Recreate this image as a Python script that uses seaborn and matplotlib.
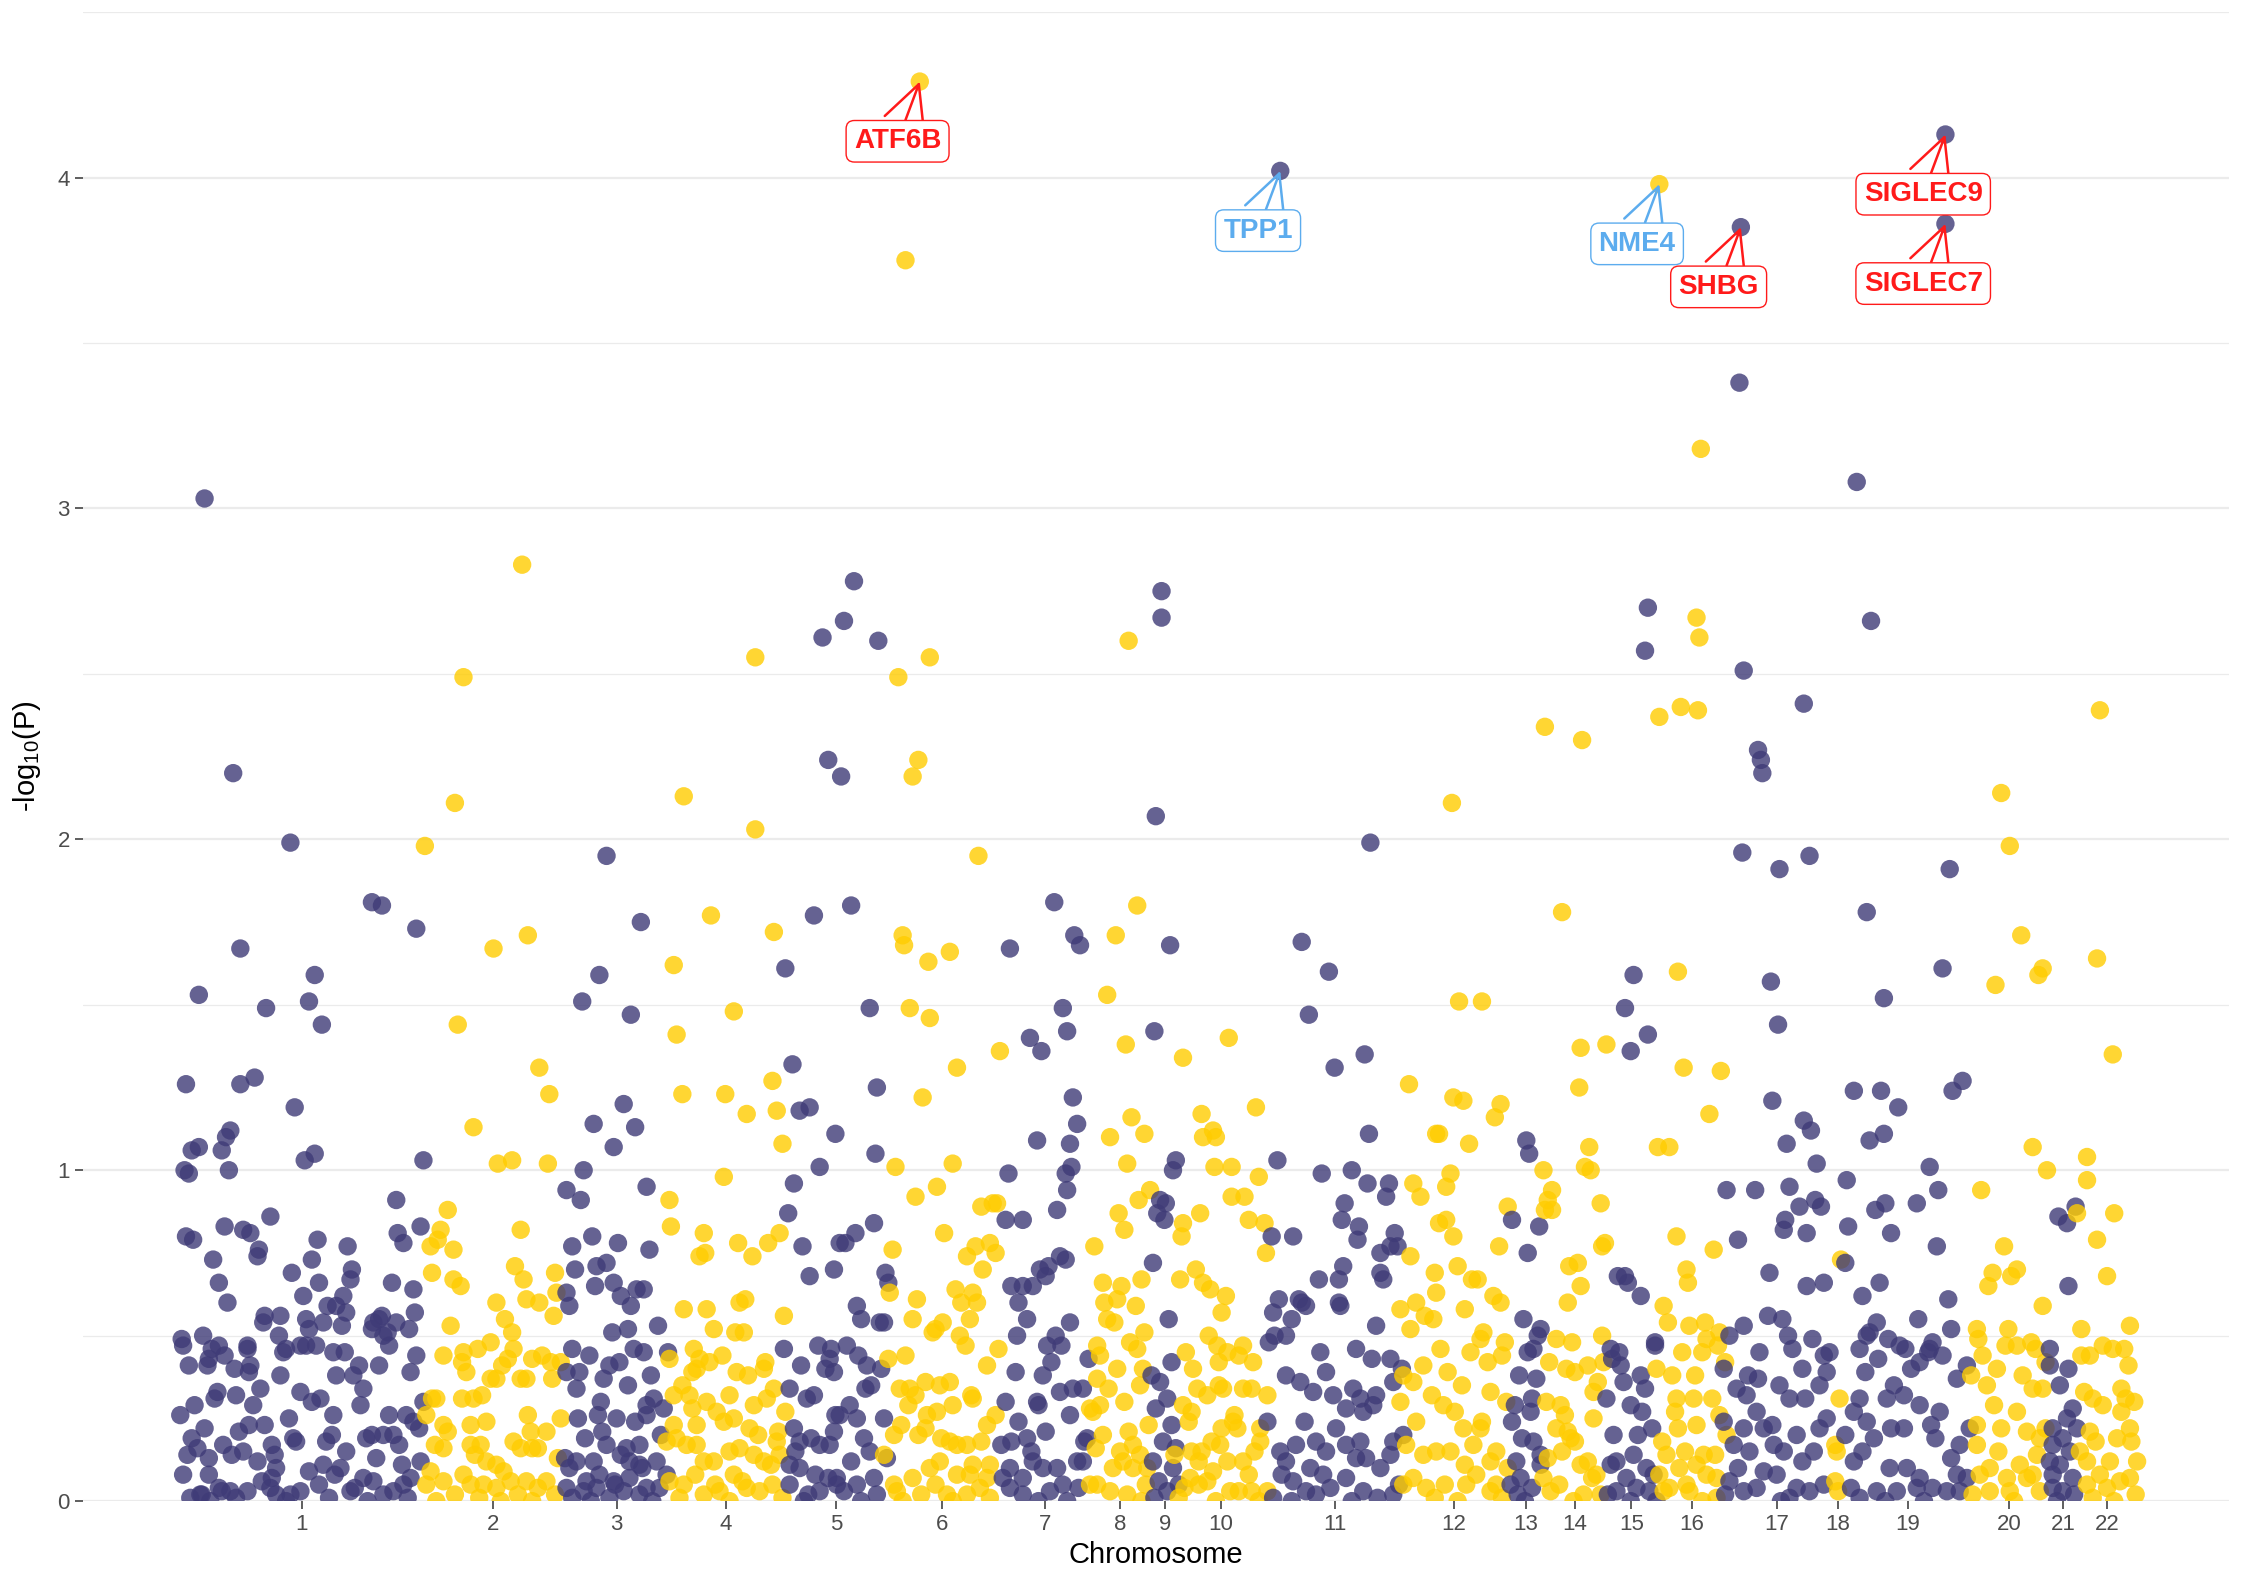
import pandas as pd
import matplotlib
matplotlib.use("Agg")
import matplotlib.pyplot as plt
from matplotlib.ticker import MultipleLocator
import seaborn as sns

# (cumulative position, -log10 P) per chromosome
chr1 = [(143, 3.03), (163, 2.20), (203, 1.99), (260, 1.81), (267, 1.80), (291, 1.73), (168, 1.67), (220, 1.59),
        (139, 1.53), (186, 1.49), (216, 1.51), (225, 1.44), (130, 1.26), (168, 1.26), (178, 1.28), (206, 1.19),
        (161, 1.12), (158, 1.10), (139, 1.07), (134, 1.06), (155, 1.06), (220, 1.05), (213, 1.03), (129, 1.00),
        (132, 0.99), (160, 1.00), (296, 1.03), (277, 0.91), (189, 0.86), (157, 0.83), (170, 0.82), (175, 0.81),
        (130, 0.80), (135, 0.79), (278, 0.81), (282, 0.78), (294, 0.83), (222, 0.79), (243, 0.77), (181, 0.76),
        (180, 0.74), (149, 0.73), (218, 0.73), (246, 0.70), (245, 0.67), (204, 0.69), (153, 0.66), (223, 0.66),
        (274, 0.66), (289, 0.64), (159, 0.60), (212, 0.62), (240, 0.62), (235, 0.59), (229, 0.59), (242, 0.57),
        (290, 0.57), (185, 0.56), (184, 0.54), (196, 0.56), (265, 0.55), (277, 0.54), (267, 0.56), (261, 0.54),
        (260, 0.52), (271, 0.51), (286, 0.52), (127, 0.49), (128, 0.47), (142, 0.50), (173, 0.47), (214, 0.55),
        (226, 0.54), (216, 0.52), (239, 0.53), (132, 0.41), (148, 0.46), (153, 0.47), (146, 0.43), (145, 0.41),
        (157, 0.44), (164, 0.40), (173, 0.46), (175, 0.41), (174, 0.39), (177, 0.29), (182, 0.34), (165, 0.32),
        (152, 0.33), (150, 0.31), (136, 0.29), (126, 0.26), (134, 0.19), (138, 0.16), (143, 0.22), (146, 0.13),
        (146, 0.08), (141, 0.02), (153, 0.04), (162, 0.14), (167, 0.21), (174, 0.23), (180, 0.12), (185, 0.23),
        (190, 0.17), (192, 0.14), (193, 0.10), (190, 0.07), (202, 0.25), (205, 0.19), (207, 0.18), (210, 0.33),
        (196, 0.38), (195, 0.50), (200, 0.46), (198, 0.45), (210, 0.47), (214, 0.47), (221, 0.47), (218, 0.30),
        (224, 0.31), (228, 0.18), (232, 0.20), (233, 0.26), (226, 0.11), (234, 0.08), (238, 0.10), (242, 0.15),
        (251, 0.41), (247, 0.38), (254, 0.34), (252, 0.29), (256, 0.19), (260, 0.20), (254, 0.07), (248, 0.04),
        (268, 0.20), (272, 0.26), (275, 0.20), (284, 0.26), (281, 0.11), (287, 0.07), (282, 0.05), (233, 0.45),
        (241, 0.45), (235, 0.38), (265, 0.41), (272, 0.47), (268, 0.50), (287, 0.39), (294, 0.12), (289, 0.24),
        (293, 0.22), (210, 0.03), (203, 0.02), (193, 0.02), (189, 0.04), (173, 0.03), (161, 0.03), (155, 0.03),
        (140, 0.02), (223, 0.05), (245, 0.03), (261, 0.06), (268, 0.02), (275, 0.03), (147, 0.00), (165, 0.01),
        (200, 0.00), (230, 0.01), (257, 0.00), (285, 0.01), (133, 0.01), (128, 0.08), (131, 0.14), (156, 0.17),
        (170, 0.15), (183, 0.06), (216, 0.09), (263, 0.13), (279, 0.17), (296, 0.30), (291, 0.44)]
chr2 = [(365, 2.83), (324, 2.49), (318, 2.11), (297, 1.98), (345, 1.67), (369, 1.71), (320, 1.44), (377, 1.31),
        (384, 1.23), (331, 1.13), (348, 1.02), (358, 1.03), (383, 1.02), (313, 0.88), (364, 0.82), (308, 0.82),
        (306, 0.79), (301, 0.77), (317, 0.76), (302, 0.69), (317, 0.67), (322, 0.65), (360, 0.71), (366, 0.67),
        (388, 0.69), (368, 0.61), (377, 0.60), (389, 0.63), (387, 0.56), (347, 0.60), (353, 0.55), (315, 0.53),
        (358, 0.51), (359, 0.46), (343, 0.48), (334, 0.46), (324, 0.45), (323, 0.42), (326, 0.39), (310, 0.44),
        (355, 0.43), (351, 0.41), (347, 0.37), (343, 0.37), (364, 0.37), (368, 0.37), (372, 0.43), (379, 0.44),
        (385, 0.42), (392, 0.42), (386, 0.37), (337, 0.32), (331, 0.31), (323, 0.31), (302, 0.31), (305, 0.31),
        (298, 0.26), (310, 0.23), (313, 0.21), (329, 0.23), (340, 0.24), (304, 0.17), (310, 0.16), (329, 0.17),
        (336, 0.17), (332, 0.14), (340, 0.12), (347, 0.11), (359, 0.18), (364, 0.16), (372, 0.16), (376, 0.16),
        (371, 0.21), (382, 0.21), (369, 0.26), (392, 0.25), (390, 0.13), (352, 0.09), (357, 0.06), (347, 0.04),
        (338, 0.05), (329, 0.05), (324, 0.08), (310, 0.06), (301, 0.09), (298, 0.05), (368, 0.06), (382, 0.06),
        (376, 0.04), (318, 0.02), (335, 0.01), (362, 0.02), (388, 0.02), (305, 0.00), (350, 0.00), (372, 0.00)]
chr3 = [(424, 1.95), (448, 1.75), (419, 1.59), (407, 1.51), (441, 1.47), (436, 1.20), (415, 1.14), (444, 1.13),
        (429, 1.07), (408, 1.00), (396, 0.94), (406, 0.91), (452, 0.95), (414, 0.80), (400, 0.77), (432, 0.78),
        (454, 0.76), (402, 0.70), (417, 0.71), (424, 0.72), (429, 0.66), (416, 0.65), (434, 0.62), (441, 0.59),
        (445, 0.64), (450, 0.64), (396, 0.63), (398, 0.59), (460, 0.53), (428, 0.51), (439, 0.52), (443, 0.46),
        (450, 0.45), (467, 0.45), (426, 0.41), (439, 0.35), (405, 0.39), (396, 0.39), (403, 0.34), (420, 0.30),
        (431, 0.25), (404, 0.25), (409, 0.19), (421, 0.21), (424, 0.17), (438, 0.16), (447, 0.17), (452, 0.26),
        (395, 0.13), (403, 0.12), (415, 0.12), (440, 0.12), (449, 0.10), (410, 0.06), (429, 0.06), (440, 0.07),
        (396, 0.04), (417, 0.04), (436, 0.03), (452, 0.04), (452, 0.29), (457, 0.31), (464, 0.28), (459, 0.12),
        (466, 0.08), (461, 0.04), (447, 0.11), (447, 0.02), (426, 0.01), (419, 0.08), (430, 0.05), (398, 0.10),
        (408, 0.03), (412, 0.44), (422, 0.37), (433, 0.42), (455, 0.38), (462, 0.20), (400, 0.46), (418, 0.26),
        (434, 0.14), (444, 0.24), (413, 0.00), (456, 0.00), (400, 0.01)]
chr4 = [(528, 2.55), (478, 2.13), (528, 2.03), (497, 1.77), (541, 1.72), (471, 1.62), (513, 1.48), (473, 1.41),
        (477, 1.23), (507, 1.23), (540, 1.27), (522, 1.17), (543, 1.18), (547, 1.08), (506, 0.98), (468, 0.91),
        (469, 0.83), (492, 0.81), (489, 0.74), (493, 0.75), (516, 0.78), (526, 0.74), (537, 0.78), (545, 0.81),
        (478, 0.58), (494, 0.58), (517, 0.60), (521, 0.61), (548, 0.56), (499, 0.52), (514, 0.51), (520, 0.51),
        (485, 0.46), (489, 0.43), (487, 0.40), (496, 0.42), (484, 0.39), (477, 0.35), (471, 0.32), (482, 0.32),
        (484, 0.28), (487, 0.23), (471, 0.23), (466, 0.18), (473, 0.19), (480, 0.17), (487, 0.17), (492, 0.12),
        (499, 0.12), (478, 0.05), (475, 0.01), (500, 0.05), (503, 0.03), (513, 0.08), (515, 0.39), (523, 0.38),
        (535, 0.42), (534, 0.40), (541, 0.34), (536, 0.31), (549, 0.27), (527, 0.29), (510, 0.32), (501, 0.27),
        (506, 0.24), (513, 0.25), (524, 0.22), (530, 0.20), (517, 0.16), (527, 0.14), (543, 0.18), (534, 0.12),
        (539, 0.11), (522, 0.04), (531, 0.03), (544, 0.21), (545, 0.14), (510, 0.15), (468, 0.43), (505, 0.44),
        (494, 0.30), (519, 0.06), (540, 0.05), (492, 0.02), (510, 0.00), (486, 0.08), (547, 0.01), (468, 0.06)]
chr5 = [(597, 2.78), (590, 2.66), (575, 2.61), (614, 2.60), (579, 2.24), (588, 2.19), (595, 1.80), (569, 1.77),
        (549, 1.61), (608, 1.49), (554, 1.32), (613, 1.25), (559, 1.18), (566, 1.19), (584, 1.11), (612, 1.05),
        (573, 1.01), (555, 0.96), (551, 0.87), (611, 0.84), (598, 0.81), (591, 0.78), (561, 0.77), (587, 0.78),
        (566, 0.68), (583, 0.70), (619, 0.69), (621, 0.66), (599, 0.59), (602, 0.55), (615, 0.54), (618, 0.54),
        (580, 0.43), (583, 0.39), (600, 0.44), (606, 0.41), (594, 0.29), (587, 0.26), (583, 0.21), (599, 0.25),
        (604, 0.19), (608, 0.15), (618, 0.25), (585, 0.07), (599, 0.05), (611, 0.07), (590, 0.03), (605, 0.34),
        (609, 0.35), (552, 0.34), (564, 0.31), (560, 0.41), (569, 0.32), (577, 0.40), (581, 0.46), (584, 0.26),
        (555, 0.22), (559, 0.18), (567, 0.19), (573, 0.17), (580, 0.17), (552, 0.11), (559, 0.10), (570, 0.08),
        (579, 0.07), (585, 0.05), (552, 0.05), (565, 0.02), (573, 0.03), (556, 0.15), (548, 0.46), (572, 0.47),
        (592, 0.47), (616, 0.40), (620, 0.13), (613, 0.02), (595, 0.12), (562, 0.00), (602, 0.00)]
chr6 = [(643, 4.29), (633, 3.75), (628, 2.49), (650, 2.55), (642, 2.24), (638, 2.19), (684, 1.95), (631, 1.71),
        (632, 1.68), (649, 1.63), (664, 1.66), (636, 1.49), (650, 1.46), (699, 1.36), (669, 1.31), (645, 1.22),
        (626, 1.01), (666, 1.02), (640, 0.92), (655, 0.95), (686, 0.89), (694, 0.90), (697, 0.90), (660, 0.81),
        (624, 0.76), (676, 0.74), (682, 0.77), (692, 0.78), (696, 0.75), (687, 0.70), (622, 0.63), (668, 0.64),
        (680, 0.63), (683, 0.60), (672, 0.60), (678, 0.55), (641, 0.61), (638, 0.55), (654, 0.52), (659, 0.54),
        (652, 0.51), (671, 0.50), (675, 0.47), (690, 0.41), (621, 0.43), (629, 0.34), (636, 0.34), (640, 0.32),
        (647, 0.36), (657, 0.35), (664, 0.36), (666, 0.29), (679, 0.32), (680, 0.31), (635, 0.29), (648, 0.26),
        (655, 0.27), (625, 0.20), (630, 0.23), (642, 0.20), (647, 0.22), (658, 0.19), (664, 0.18), (669, 0.17),
        (676, 0.17), (686, 0.18), (690, 0.23), (657, 0.12), (680, 0.11), (692, 0.11), (669, 0.08), (678, 0.08),
        (690, 0.07), (625, 0.05), (654, 0.05), (644, 0.02), (662, 0.02), (676, 0.02), (692, 0.01), (627, 0.03),
        (698, 0.46), (633, 0.44), (618, 0.14), (696, 0.26), (650, 0.10), (638, 0.07), (685, 0.04), (666, 0.00),
        (631, 0.00)]
chr7 = [(737, 1.81), (706, 1.67), (751, 1.71), (755, 1.68), (743, 1.49), (746, 1.42), (720, 1.40), (728, 1.36),
        (750, 1.22), (753, 1.14), (748, 1.08), (749, 1.01), (745, 0.99), (746, 0.94), (739, 0.88), (725, 1.09),
        (705, 0.99), (703, 0.85), (715, 0.85), (741, 0.74), (745, 0.73), (733, 0.71), (727, 0.70), (731, 0.68),
        (707, 0.65), (715, 0.65), (722, 0.65), (712, 0.60), (718, 0.55), (748, 0.54), (711, 0.50), (738, 0.50),
        (732, 0.47), (742, 0.47), (710, 0.39), (729, 0.38), (741, 0.33), (750, 0.34), (757, 0.34), (761, 0.43),
        (725, 0.30), (726, 0.29), (712, 0.24), (718, 0.19), (700, 0.17), (707, 0.18), (721, 0.15), (722, 0.12),
        (729, 0.10), (739, 0.10), (706, 0.10), (701, 0.07), (753, 0.12), (757, 0.12), (760, 0.19), (758, 0.18),
        (715, 0.02), (734, 0.03), (754, 0.04), (743, 0.05), (706, 0.04), (735, 0.42), (703, 0.30), (748, 0.26),
        (731, 0.21), (715, 0.07), (726, 0.00), (746, 0.00)]
chr8 = [(789, 2.60), (795, 1.80), (780, 1.71), (774, 1.53), (787, 1.38), (791, 1.16), (800, 1.11), (776, 1.10),
        (788, 1.02), (804, 0.94), (796, 0.91), (782, 0.87), (786, 0.82), (765, 0.77), (771, 0.66), (784, 0.65),
        (798, 0.67), (781, 0.61), (794, 0.59), (772, 0.60), (774, 0.55), (779, 0.54), (800, 0.51), (790, 0.48),
        (795, 0.46), (767, 0.47), (769, 0.44), (764, 0.27), (762, 0.28), (767, 0.37), (775, 0.34), (769, 0.29),
        (797, 0.35), (803, 0.23), (789, 0.21), (792, 0.17), (783, 0.15), (797, 0.14), (778, 0.10), (792, 0.10),
        (802, 0.10), (801, 0.05), (762, 0.05), (776, 0.03), (785, 0.12), (767, 0.05), (781, 0.40), (786, 0.30),
        (799, 0.40), (771, 0.20), (788, 0.02), (798, 0.00), (766, 0.16)]
chr9 = [(812, 2.75), (812, 2.67), (808, 2.07), (818, 1.68), (807, 1.42), (822, 1.03), (820, 1.00), (811, 0.91),
        (815, 0.90), (809, 0.87), (814, 0.85), (806, 0.72), (817, 0.55), (819, 0.42), (805, 0.38), (811, 0.36),
        (816, 0.31), (808, 0.28), (819, 0.23), (813, 0.18), (806, 0.12), (820, 0.10), (816, 0.03), (824, 0.05),
        (810, 0.06), (822, 0.16), (807, 0.01)]
chr10 = [(827, 1.34), (859, 1.40), (878, 1.19), (840, 1.17), (841, 1.10), (848, 1.12), (850, 1.10), (849, 1.01),
         (861, 1.01), (880, 0.98), (861, 0.92), (870, 0.92), (839, 0.87), (827, 0.84), (826, 0.80), (873, 0.85),
         (884, 0.84), (885, 0.75), (825, 0.67), (836, 0.70), (841, 0.66), (846, 0.64), (857, 0.62), (854, 0.57),
         (845, 0.50), (851, 0.47), (852, 0.42), (829, 0.45), (869, 0.47), (866, 0.44), (837, 0.34), (844, 0.32),
         (855, 0.34), (852, 0.35), (827, 0.29), (833, 0.27), (831, 0.24), (869, 0.34), (875, 0.34), (886, 0.32),
         (863, 0.26), (862, 0.24), (854, 0.22), (865, 0.22), (847, 0.18), (853, 0.17), (881, 0.22), (881, 0.18),
         (877, 0.15), (821, 0.14), (833, 0.15), (840, 0.15), (838, 0.12), (858, 0.12), (869, 0.12), (873, 0.08),
         (832, 0.07), (844, 0.06), (828, 0.04), (860, 0.03), (866, 0.03), (875, 0.03), (886, 0.03), (838, 0.05),
         (858, 0.45), (876, 0.42), (834, 0.40), (848, 0.09), (880, 0.00), (850, 0.00), (824, 0.01)]
chr11 = [(895, 4.02), (958, 1.99), (910, 1.69), (929, 1.60), (915, 1.47), (954, 1.35), (933, 1.31), (957, 1.11),
         (893, 1.03), (924, 0.99), (945, 1.00), (956, 0.96), (971, 0.96), (969, 0.92), (940, 0.90), (938, 0.85),
         (889, 0.80), (904, 0.80), (950, 0.83), (949, 0.79), (975, 0.81), (972, 0.77), (965, 0.75), (977, 0.77),
         (939, 0.71), (922, 0.67), (936, 0.67), (965, 0.69), (967, 0.67), (894, 0.61), (890, 0.57), (903, 0.55),
         (899, 0.50), (891, 0.50), (887, 0.48), (908, 0.61), (913, 0.59), (910, 0.60), (936, 0.60), (937, 0.59),
         (962, 0.53), (923, 0.45), (927, 0.39), (948, 0.46), (959, 0.43), (972, 0.43), (899, 0.38), (909, 0.36),
         (918, 0.33), (932, 0.32), (946, 0.34), (951, 0.31), (941, 0.28), (953, 0.27), (962, 0.32), (960, 0.29),
         (974, 0.36), (934, 0.22), (895, 0.15), (899, 0.12), (906, 0.17), (920, 0.18), (927, 0.15), (941, 0.17),
         (951, 0.18), (948, 0.13), (955, 0.13), (974, 0.18), (972, 0.14), (965, 0.10), (896, 0.08), (904, 0.06),
         (916, 0.10), (925, 0.08), (930, 0.04), (941, 0.07), (913, 0.03), (953, 0.03), (974, 0.02), (920, 0.02),
         (890, 0.01), (886, 0.24), (980, 0.40), (981, 0.20), (978, 0.05), (912, 0.24), (945, 0.00), (903, 0.00),
         (963, 0.01)]
chr12 = [(1015, 2.11), (1020, 1.51), (1036, 1.51), (985, 1.26), (1016, 1.22), (1023, 1.21), (1049, 1.20),
         (1045, 1.16), (1004, 1.11), (1006, 1.11), (1027, 1.08), (988, 0.96), (993, 0.92), (1014, 0.99),
         (1011, 0.95), (1006, 0.84), (1011, 0.85), (1016, 0.80), (986, 0.74), (1048, 0.77), (1003, 0.69),
         (1004, 0.63), (1019, 0.71), (1029, 0.67), (1033, 0.67), (979, 0.58), (990, 0.60), (986, 0.52), (996, 0.56),
         (1002, 0.55), (1024, 0.58), (1044, 0.62), (1049, 0.60), (1037, 0.51), (1035, 0.49), (1054, 0.89),
         (1052, 0.48), (981, 0.38), (995, 0.41), (1012, 0.39), (1022, 0.35), (1040, 0.42), (1042, 0.33),
         (988, 0.36), (1001, 0.32), (1009, 0.29), (1017, 0.27), (1023, 0.22), (1036, 0.24), (1035, 0.22),
         (983, 0.17), (995, 0.14), (1004, 0.15), (1014, 0.15), (1030, 0.17), (1024, 0.11), (1032, 0.08),
         (1042, 0.12), (1046, 0.15), (981, 0.05), (988, 0.07), (997, 0.04), (1025, 0.05), (1042, 0.03),
         (1046, 0.05), (1050, 0.44), (1053, 0.30), (1054, 0.10), (1028, 0.45), (1007, 0.46), (990, 0.24),
         (1010, 0.05), (1019, 0.00), (1003, 0.01), (1050, 0.01), (979, 0.30)]
chr13 = [(1067, 1.09), (1069, 1.05), (1057, 0.85), (1076, 0.83), (1068, 0.75), (1065, 0.55), (1077, 0.52),
         (1075, 0.50), (1068, 0.45), (1072, 0.46), (1059, 0.29), (1071, 0.31), (1070, 0.27), (1057, 0.24),
         (1064, 0.19), (1072, 0.18), (1060, 0.12), (1077, 0.14), (1063, 0.07), (1056, 0.05), (1061, 0.02),
         (1077, 0.11), (1062, 0.38), (1074, 0.37), (1066, 0.00), (1071, 0.04)]
chr14 = [(1080, 2.34), (1106, 2.30), (1092, 1.78), (1105, 1.37), (1123, 1.38), (1104, 1.25), (1111, 1.07),
         (1079, 1.00), (1108, 1.01), (1112, 1.00), (1085, 0.94), (1082, 0.91), (1080, 0.88), (1085, 0.88),
         (1119, 0.90), (1120, 0.77), (1122, 0.78), (1097, 0.71), (1103, 0.72), (1105, 0.65), (1096, 0.60),
         (1088, 0.49), (1099, 0.48), (1120, 0.50), (1095, 0.40), (1101, 0.39), (1110, 0.41), (1121, 0.42),
         (1117, 0.36), (1114, 0.33), (1091, 0.29), (1094, 0.26), (1088, 0.22), (1096, 0.21), (1101, 0.18),
         (1098, 0.19), (1114, 0.25), (1110, 0.12), (1105, 0.11), (1116, 0.08), (1113, 0.07), (1079, 0.07),
         (1084, 0.03), (1107, 0.02), (1092, 0.15), (1082, 0.13), (1083, 0.42), (1090, 0.05), (1100, 0.00),
         (1119, 0.02), (1081, 0.30)]
chr15 = [(1152, 2.70), (1150, 2.57), (1142, 1.59), (1136, 1.49), (1152, 1.41), (1140, 1.36), (1131, 0.68),
         (1136, 0.68), (1138, 0.66), (1147, 0.62), (1157, 0.48), (1157, 0.47), (1126, 0.46), (1132, 0.45),
         (1133, 0.41), (1127, 0.43), (1123, 0.31), (1140, 0.29), (1148, 0.27), (1150, 0.34), (1145, 0.20),
         (1142, 0.14), (1151, 0.10), (1156, 0.08), (1130, 0.12), (1126, 0.11), (1137, 0.07), (1130, 0.03),
         (1144, 0.04), (1153, 0.03), (1124, 0.02), (1135, 0.36), (1155, 0.22), (1128, 0.20), (1140, 0.00),
         (1158, 0.00), (1147, 0.38)]
chr16 = [(1160, 3.98), (1189, 3.18), (1186, 2.67), (1188, 2.61), (1160, 2.37), (1175, 2.40), (1187, 2.39),
         (1173, 1.60), (1177, 1.31), (1203, 1.30), (1195, 1.17), (1159, 1.07), (1167, 1.07), (1172, 0.80),
         (1198, 0.76), (1179, 0.70), (1180, 0.66), (1163, 0.59), (1166, 0.54), (1181, 0.53), (1192, 0.54),
         (1193, 0.49), (1202, 0.51), (1201, 0.47), (1190, 0.45), (1169, 0.38), (1185, 0.38), (1172, 0.31),
         (1171, 0.27), (1184, 0.31), (1197, 0.31), (1202, 0.26), (1173, 0.22), (1186, 0.23), (1162, 0.18),
         (1165, 0.14), (1178, 0.15), (1191, 0.14), (1199, 0.14), (1186, 0.11), (1174, 0.10), (1193, 0.08),
         (1200, 0.07), (1179, 0.05), (1167, 0.04), (1181, 0.03), (1200, 0.01), (1163, 0.03), (1158, 0.40),
         (1206, 0.42), (1160, 0.08), (1190, 0.00), (1207, 0.20), (1176, 0.45)]
chr17 = [(1217, 3.85), (1216, 3.38), (1219, 2.51), (1229, 2.27), (1231, 2.24), (1232, 2.20), (1261, 2.41),
         (1218, 1.96), (1244, 1.91), (1265, 1.95), (1238, 1.57), (1243, 1.44), (1239, 1.21), (1261, 1.15),
         (1266, 1.12), (1249, 1.08), (1270, 1.02), (1207, 0.94), (1227, 0.94), (1251, 0.95), (1258, 0.89),
         (1269, 0.91), (1273, 0.89), (1248, 0.85), (1247, 0.82), (1263, 0.81), (1215, 0.79), (1237, 0.69),
         (1263, 0.65), (1275, 0.66), (1236, 0.56), (1246, 0.55), (1250, 0.50), (1253, 0.46), (1267, 0.49),
         (1219, 0.53), (1209, 0.50), (1279, 0.45), (1222, 0.38), (1229, 0.37), (1214, 0.34), (1221, 0.32),
         (1244, 0.35), (1251, 0.31), (1262, 0.31), (1228, 0.27), (1219, 0.22), (1233, 0.22), (1239, 0.23),
         (1205, 0.24), (1212, 0.17), (1223, 0.15), (1240, 0.17), (1247, 0.15), (1256, 0.20), (1260, 0.12),
         (1272, 0.22), (1277, 0.25), (1209, 0.06), (1219, 0.03), (1233, 0.09), (1242, 0.08), (1228, 0.04),
         (1256, 0.04), (1265, 0.03), (1275, 0.05), (1251, 0.01), (1272, 0.35), (1277, 0.39), (1275, 0.44),
         (1205, 0.40), (1230, 0.45), (1260, 0.40), (1268, 0.15), (1215, 0.10), (1245, 0.00), (1206, 0.02)]
chr18 = [(1287, 0.73), (1286, 0.31), (1283, 0.17), (1284, 0.15), (1283, 0.06), (1285, 0.03)]
chr19 = [(1360, 4.13), (1360, 3.86), (1298, 3.08), (1308, 2.66), (1363, 1.91), (1305, 1.78), (1358, 1.61),
         (1317, 1.52), (1296, 1.24), (1315, 1.24), (1327, 1.19), (1372, 1.27), (1365, 1.24), (1307, 1.09),
         (1317, 1.11), (1349, 1.01), (1291, 0.97), (1355, 0.94), (1340, 0.90), (1311, 0.88), (1318, 0.90),
         (1292, 0.83), (1322, 0.81), (1354, 0.77), (1290, 0.72), (1314, 0.66), (1302, 0.62), (1362, 0.61),
         (1341, 0.55), (1364, 0.52), (1332, 0.46), (1351, 0.48), (1348, 0.45), (1312, 0.54), (1307, 0.51),
         (1320, 0.49), (1305, 0.50), (1300, 0.46), (1304, 0.39), (1313, 0.43), (1328, 0.47), (1336, 0.40),
         (1342, 0.42), (1349, 0.46), (1368, 0.37), (1375, 0.41), (1324, 0.35), (1319, 0.31), (1331, 0.32),
         (1342, 0.29), (1300, 0.31), (1296, 0.27), (1305, 0.24), (1322, 0.22), (1331, 0.22), (1356, 0.27),
         (1350, 0.23), (1353, 0.19), (1377, 0.22), (1370, 0.17), (1302, 0.15), (1296, 0.12), (1321, 0.10),
         (1333, 0.10), (1342, 0.07), (1351, 0.04), (1368, 0.08), (1375, 0.07), (1312, 0.03), (1326, 0.03),
         (1340, 0.04), (1361, 0.03), (1370, 0.03), (1294, 0.04), (1358, 0.44), (1364, 0.13), (1310, 0.19),
         (1290, 0.20), (1345, 0.00), (1318, 0.00), (1300, 0.01)]
chr20 = [(1399, 2.14), (1405, 1.98), (1413, 1.71), (1425, 1.59), (1428, 1.61), (1395, 1.56), (1421, 1.07),
         (1431, 1.00), (1385, 0.94), (1401, 0.77), (1393, 0.69), (1410, 0.70), (1406, 0.68), (1390, 0.65),
         (1428, 0.59), (1382, 0.52), (1383, 0.49), (1404, 0.52), (1402, 0.47), (1410, 0.47), (1420, 0.48),
         (1423, 0.46), (1378, 0.38), (1389, 0.35), (1396, 0.40), (1394, 0.29), (1410, 0.27), (1414, 0.38),
         (1421, 0.34), (1428, 0.34), (1382, 0.23), (1399, 0.22), (1417, 0.21), (1426, 0.19), (1424, 0.14),
         (1384, 0.08), (1391, 0.10), (1403, 0.07), (1412, 0.11), (1417, 0.07), (1421, 0.08), (1391, 0.03),
         (1405, 0.03), (1426, 0.03), (1382, 0.17), (1386, 0.44), (1430, 0.42), (1397, 0.15), (1408, 0.00),
         (1379, 0.02), (1430, 0.22)]
chr21 = [(1439, 0.86), (1445, 0.84), (1451, 0.89), (1446, 0.65), (1433, 0.46), (1433, 0.41), (1440, 0.35),
         (1449, 0.28), (1445, 0.25), (1435, 0.22), (1452, 0.22), (1442, 0.19), (1435, 0.17), (1447, 0.15),
         (1433, 0.12), (1440, 0.11), (1435, 0.08), (1449, 0.07), (1442, 0.03), (1435, 0.04), (1446, 0.40),
         (1438, 0.00), (1450, 0.02)]
chr22 = [(1468, 2.39), (1466, 1.64), (1477, 1.35), (1459, 1.04), (1459, 0.97), (1452, 0.87), (1478, 0.87),
         (1466, 0.79), (1473, 0.68), (1455, 0.52), (1489, 0.53), (1470, 0.47), (1477, 0.46), (1485, 0.46),
         (1455, 0.44), (1461, 0.44), (1488, 0.41), (1483, 0.34), (1486, 0.31), (1463, 0.31), (1470, 0.29),
         (1483, 0.27), (1489, 0.22), (1480, 0.19), (1490, 0.18), (1461, 0.21), (1465, 0.18), (1454, 0.15),
         (1459, 0.12), (1475, 0.12), (1468, 0.08), (1482, 0.06), (1459, 0.05), (1473, 0.04), (1489, 0.07),
         (1494, 0.12), (1492, 0.30), (1457, 0.33), (1478, 0.00), (1463, 0.01), (1493, 0.02)]

chromosomes = [chr1, chr2, chr3, chr4, chr5, chr6, chr7, chr8, chr9, chr10, chr11,
               chr12, chr13, chr14, chr15, chr16, chr17, chr18, chr19, chr20, chr21, chr22]

# labelled genes: chromosome and rank of the hit within that chromosome
gene_names = ["ATF6B", "TPP1", "NME4", "SHBG", "SIGLEC9", "SIGLEC7"]
gene_chrom = [6, 11, 16, 17, 19, 19]
gene_rank = [0, 0, 0, 0, 0, 1]
gene_colors = ["#FF1A1A", "#5CACEE", "#5CACEE", "#FF1A1A", "#FF1A1A", "#FF1A1A"]

rows = []
for c, pts in enumerate(chromosomes, start=1):
    for pos, lp in pts:
        rows.append((c, pos, lp))
df = pd.DataFrame(rows, columns=["chrom", "pos", "logp"])

centers = df.groupby("chrom")["pos"].agg(lambda s: (s.min() + s.max()) / 2)

sns.set_theme(style="white")
plt.rcParams["font.family"] = ["Liberation Sans", "DejaVu Sans"]
plt.rcParams["mathtext.default"] = "regular"

dark, yellow = "#3F3B77", "#FFCC00"
pal = {c: (dark if c % 2 else yellow) for c in range(1, 23)}

fig = plt.figure(figsize=(22.43, 15.87), dpi=100)
ax = fig.add_axes([0.037, 0.0541, 0.9566, 0.9383])

sns.scatterplot(data=df, x="pos", y="logp", hue="chrom", palette=pal, s=175,
                alpha=0.8, linewidth=0, legend=False, ax=ax, zorder=3)

for name, c, r, col in zip(gene_names, gene_chrom, gene_rank, gene_colors):
    hit = df[df.chrom == c].sort_values("logp", ascending=False).iloc[r]
    ax.annotate(name, xy=(hit.pos, hit.logp), xytext=(-16, -43), textcoords="offset points",
                ha="center", va="center", fontsize=20, fontweight="bold", color=col, zorder=6,
                bbox=dict(boxstyle="round,pad=0.28,rounding_size=0.3", fc="white", ec=col, lw=1.0),
                arrowprops=dict(arrowstyle="->,head_length=1.5,head_width=0.75", color=col, lw=1.8,
                                shrinkA=0, shrinkB=0, mutation_scale=20))

ax.set_xlim(58, 1558)
ax.set_ylim(0, 4.5)
ax.set_xticks(centers.values)
ax.set_xticklabels([str(c) for c in centers.index])
ax.set_yticks([0, 1, 2, 3, 4])
ax.yaxis.set_minor_locator(MultipleLocator(0.5))
ax.grid(axis="y", which="major", color="#EBEBEB", lw=1.6, zorder=0)
ax.grid(axis="y", which="minor", color="#EBEBEB", lw=0.9, zorder=0)
ax.grid(axis="x", visible=False)
ax.set_axisbelow(True)
for sp in ax.spines.values():
    sp.set_visible(False)
ax.tick_params(axis="both", which="major", length=5.5, width=1.1, color="#333333",
               labelsize=16, labelcolor="#4D4D4D", pad=4, bottom=True, left=True)
ax.tick_params(axis="y", which="minor", length=0)

ax.set_xlabel("Chromosome", fontsize=21, labelpad=4, color="black")
ax.set_ylabel("-log$_{10}$(P)", fontsize=21, labelpad=10, color="black")

fig.savefig("out.png", dpi=100)
